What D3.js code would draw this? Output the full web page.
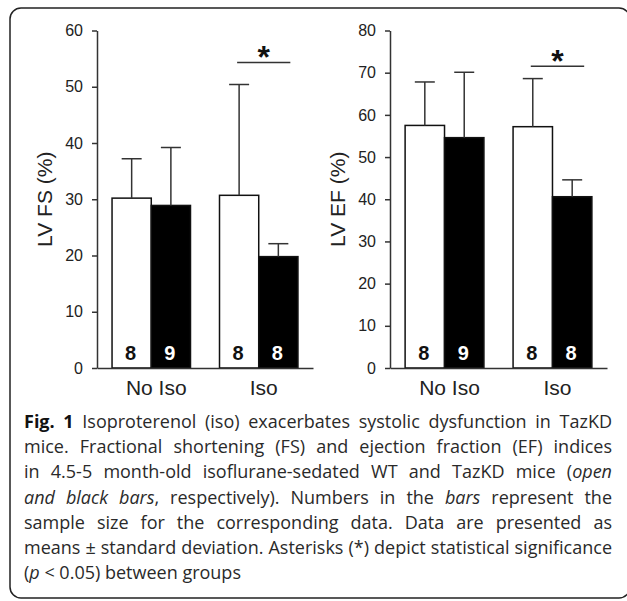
<!DOCTYPE html>
<html><head><meta charset="utf-8">
<script src="https://cdn.jsdelivr.net/npm/d3@7"></script>
<style>body{margin:0;background:#fff} svg{display:block}</style>
</head><body>
<svg id="c" width="627" height="601"></svg>
<script>
// ---------- data ----------
const groups = ["No Iso", "Iso"];
const genotypes = ["WT", "TazKD"];
const fsMean = [30.2, 28.9, 30.7, 19.8];
const fsSD   = [7.0, 10.3, 19.7, 2.3];
const efMean = [57.5, 54.6, 57.2, 40.6];
const efSD   = [10.3, 15.5, 11.4, 4.0];
const sampleN = [8, 9, 8, 8];
const fsTicks = [0, 10, 20, 30, 40, 50, 60];
const efTicks = [0, 10, 20, 30, 40, 50, 60, 70, 80];
const fsSigLevel = 54.3;
const efSigLevel = 71.5;
const captionLines = [
  "**Fig. 1** Isoproterenol (iso) exacerbates systolic dysfunction in TazKD",
  "mice. Fractional shortening (FS) and ejection fraction (EF) indices",
  "in 4.5-5 month-old isoflurane-sedated WT and TazKD mice (_open_",
  "_and black bars_, respectively). Numbers in the _bars_ represent the",
  "sample size for the corresponding data. Data are presented as",
  "means ± standard deviation. Asterisks (*) depict statistical significance",
  "(_p_ < 0.05) between groups"
];

// ---------- drawing ----------
const svg = d3.select("#c");
const chartFont = "'Liberation Sans', Arial, Helvetica, sans-serif";
const ink = "#222";

svg.append("rect")
  .attr("x", 10).attr("y", 8).attr("width", 620).attr("height", 590)
  .attr("rx", 11).attr("ry", 11)
  .attr("fill", "none").attr("stroke", "#222").attr("stroke-width", 1.5);

const panels = [
  {mean: fsMean, sd: fsSD, ticks: fsTicks, max: 60, title: "LV FS (%)", x0: 97, x1: 313, sig: fsSigLevel},
  {mean: efMean, sd: efSD, ticks: efTicks, max: 80, title: "LV EF (%)", x0: 390, x1: 607, sig: efSigLevel}
];
const yTop = 30.5, yBot = 368;

panels.forEach(p => {
  const g = svg.append("g");
  const y = d3.scaleLinear().domain([0, p.max]).range([yBot, yTop]);
  const xg = d3.scaleBand().domain(groups).range([p.x0, p.x1]).paddingInner(0.27).paddingOuter(0.14);
  const xs = d3.scaleBand().domain(genotypes).range([0, xg.bandwidth()]);

  // y axis
  const ya = g.append("g").attr("transform", `translate(${p.x0},0)`)
    .call(d3.axisLeft(y).tickValues(p.ticks).tickSize(5).tickSizeOuter(0).tickPadding(9));
  ya.select(".domain").attr("stroke", "#333").attr("stroke-width", 1.5);
  ya.selectAll(".tick line").attr("stroke", "#333").attr("stroke-width", 1.5);
  ya.selectAll(".tick text").attr("font-family", chartFont).attr("font-size", 16).attr("fill", ink);

  // y title
  g.append("text")
    .attr("transform", `translate(${p.x0 - 53},${(yTop + yBot) / 2}) rotate(-90)`)
    .attr("text-anchor", "middle").attr("dy", "0.36em")
    .attr("font-family", chartFont).attr("font-size", 21).attr("fill", ink)
    .text(p.title);

  // bars
  const data = [];
  groups.forEach((gr, gi) => genotypes.forEach((ge, si) => {
    const i = gi * 2 + si;
    data.push({gr, ge, si, mean: p.mean[i], sd: p.sd[i], n: sampleN[i], x: xg(gr) + xs(ge), w: xs.bandwidth()});
  }));

  g.selectAll("rect.bar").data(data).join("rect")
    .attr("x", d => d.x).attr("y", d => y(d.mean))
    .attr("width", d => d.w).attr("height", d => y(0) - y(d.mean))
    .attr("fill", d => d.si === 0 ? "#fff" : "#000")
    .attr("stroke", "#111").attr("stroke-width", 1.5);

  // error bars (upper only)
  data.forEach(d => {
    const cx = d.x + d.w / 2;
    g.append("line").attr("x1", cx).attr("x2", cx)
      .attr("y1", y(d.mean)).attr("y2", y(d.mean + d.sd))
      .attr("stroke", "#333").attr("stroke-width", 1.5);
    g.append("line").attr("x1", cx - 10).attr("x2", cx + 10)
      .attr("y1", y(d.mean + d.sd)).attr("y2", y(d.mean + d.sd))
      .attr("stroke", "#333").attr("stroke-width", 1.5);
    g.append("text").attr("x", cx - 1).attr("y", y(0) - 8)
      .attr("text-anchor", "middle")
      .attr("font-family", chartFont).attr("font-weight", "bold").attr("font-size", 20)
      .attr("fill", d.si === 0 ? "#111" : "#fff")
      .text(d.n);
  });

  // x axis
  const xa = g.append("g").attr("transform", `translate(0,${yBot})`)
    .call(d3.axisBottom(xg).tickSize(0).tickSizeOuter(0).tickPadding(12));
  xa.select(".domain").attr("stroke", "#333").attr("stroke-width", 1.5);
  xa.selectAll(".tick text").attr("font-family", chartFont).attr("font-size", 21).attr("fill", ink)
    .attr("dx", 5);

  // significance
  const b3 = data[2], b4 = data[3];
  const sx1 = b3.x + b3.w / 2 - 2, sx2 = b4.x + b4.w / 2 + 12;
  const sy = y(p.sig);
  g.append("line").attr("x1", sx1).attr("x2", sx2).attr("y1", sy).attr("y2", sy)
    .attr("stroke", "#333").attr("stroke-width", 1.5);
  const afs = 32;
  g.append("text").attr("x", (sx1 + sx2) / 2).attr("y", sy - 13 + 0.57 * afs)
    .attr("text-anchor", "middle")
    .attr("font-family", chartFont).attr("font-weight", "bold").attr("font-size", afs)
    .attr("fill", "#111").text("*");
});

// ---------- caption ----------
const capFont = "'Open Sans', 'Noto Sans', sans-serif";
const capSize = 18, capX0 = 24, capX1 = 612, capBase = 428, capStep = 25.2;

function parseLine(line) {
  const words = []; let cur = []; let seg = ""; let style = "n";
  const flush = () => { if (seg) { cur.push({t: seg, s: style}); seg = ""; } };
  for (let i = 0; i < line.length; i++) {
    const ch = line[i];
    if (ch === "*" && line[i + 1] === "*") { flush(); style = style === "b" ? "n" : "b"; i++; continue; }
    if (ch === "_") { flush(); style = style === "i" ? "n" : "i"; continue; }
    if (ch === " ") { flush(); if (cur.length) words.push(cur); cur = []; continue; }
    seg += ch;
  }
  flush(); if (cur.length) words.push(cur);
  return words;
}
const styleAttrs = (sel, s) => sel
  .attr("font-family", capFont).attr("font-size", capSize)
  .attr("font-weight", s === "b" ? "bold" : "normal")
  .attr("font-style", s === "i" ? "italic" : "normal")
  .attr("fill", s === "b" ? "#111" : "#2a2a2a");

const meas = svg.append("text").attr("visibility", "hidden");
function width(t, s) { styleAttrs(meas, s); meas.text(t); return meas.node().getComputedTextLength(); }
const spaceW = width("a a", "n") - width("aa", "n");

const parsed = captionLines.map(parseLine).map(ws => ws.map(w => {
  w.forEach(sg => sg.w = width(sg.t, sg.s));
  w.width = d3.sum(w, sg => sg.w);
  return w;
}));
const natural = parsed.map(ws => d3.sum(ws, w => w.width) + spaceW * (ws.length - 1));
const sxCap = Math.min(1, (capX1 - capX0) / d3.max(natural));
const lineW = (capX1 - capX0) / sxCap;
meas.remove();

const cap = svg.append("g").attr("transform", `translate(${capX0},0) scale(${sxCap},1)`);
parsed.forEach((ws, li) => {
  const last = li === parsed.length - 1;
  const total = d3.sum(ws, w => w.width);
  const gap = last ? spaceW : (lineW - total) / (ws.length - 1);
  let x = 0;
  ws.forEach(w => {
    w.forEach(sg => {
      styleAttrs(cap.append("text"), sg.s).attr("x", x).attr("y", capBase + li * capStep).text(sg.t);
      x += sg.w;
    });
    x += gap;
  });
});
</script>
</body></html>
